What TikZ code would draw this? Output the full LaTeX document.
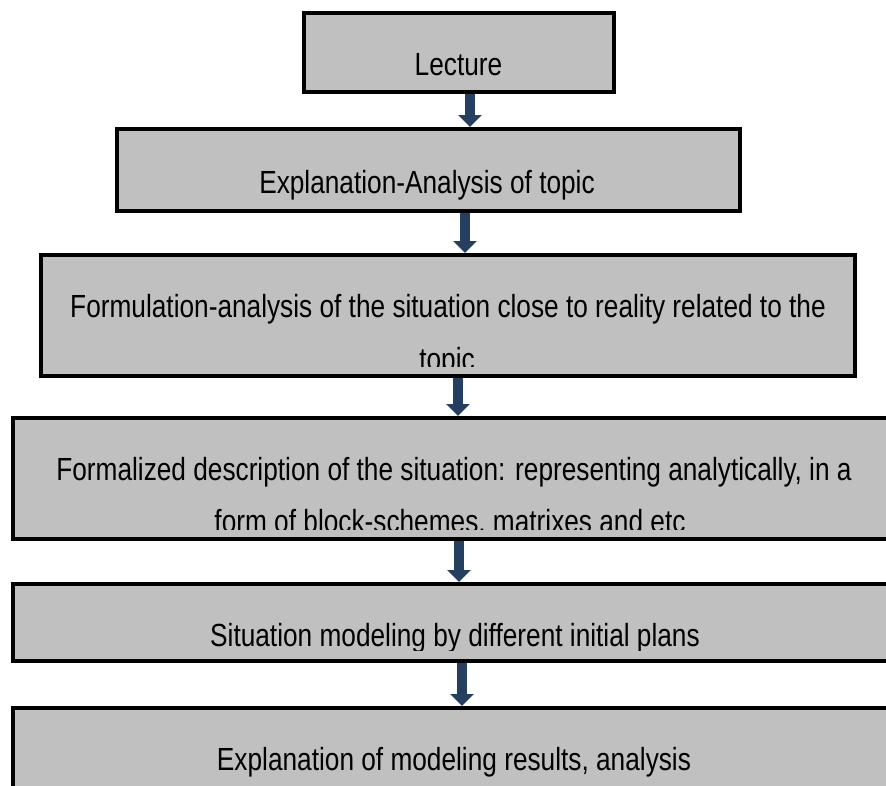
\documentclass[tikz,border=0pt]{standalone}
\usepackage{fontspec}
\setmainfont[FakeStretch=0.82]{Liberation Sans}
\usetikzlibrary{arrows.meta}
\definecolor{boxgray}{RGB}{192,192,192}
\definecolor{arrowblue}{RGB}{36,63,96}
\begin{document}
\begin{tikzpicture}[x=1pt,y=-1pt,
  flowbox/.style={draw=black, fill=boxgray, line width=4pt, rectangle, inner sep=0pt},
  flowtext/.style={anchor=base, inner sep=0pt, font=\fontsize{32}{38}\selectfont},
  flowarrow/.style={draw=arrowblue, line width=10.5pt, -{Triangle[width=23pt,length=12pt]}}]
\useasboundingbox (0,0) rectangle (886,785);
\fill[white] (0,0) rectangle (886,785);
\clip (0,0) rectangle (886,785);
% boxes
\node[flowbox, minimum width=309.5pt, minimum height=79pt] (b1) at (458.75,52.5) {};
\node[flowbox, minimum width=623pt, minimum height=82pt] (b2) at (428.5,170) {};
\node[flowbox, minimum width=814pt, minimum height=121pt] (b3) at (448,315.5) {};
\node[flowbox, minimum width=882pt, minimum height=121pt] (b4) at (454,478.5) {};
\node[flowbox, minimum width=882pt, minimum height=77pt] (b5) at (454,622.5) {};
\node[flowbox, minimum width=882pt, minimum height=112pt] (b6) at (454,764) {};
% texts
\node[flowtext] (t1) at (458.5,75) {Lecture};
\node[flowtext] (t2) at (427,193) {Explanation-Analysis of topic};
\node[flowtext] (t3) at (448,317) {Formulation-analysis of the situation close to reality related to the};
\begin{scope}
\clip (0,0) rectangle (886,366);
\node[flowtext] (t3b) at (447,370) {topic};
\end{scope}
\node[flowtext] (t4) at (454,480) {Formalized description of the situation: representing analytically, in a};
\begin{scope}
\clip (0,0) rectangle (886,529);
\node[flowtext] (t4b) at (450,532) {form of block-schemes, matrixes and etc};
\end{scope}
\begin{scope}
\clip (0,0) rectangle (886,650);
\node[flowtext] (t5) at (455,646) {Situation modeling by different initial plans};
\end{scope}
\node[flowtext] (t6) at (454,770) {Explanation of modeling results, analysis};
% arrows
\coordinate (a1) at (470,0);
\coordinate (a2) at (465,0);
\coordinate (a3) at (458,0);
\coordinate (a4) at (459,0);
\coordinate (a5) at (462,0);
\draw[flowarrow] (b1.south -| a1) -- (b2.north -| a1);
\draw[flowarrow] (b2.south -| a2) -- (b3.north -| a2);
\draw[flowarrow] (b3.south -| a3) -- (b4.north -| a3);
\draw[flowarrow] (b4.south -| a4) -- (b5.north -| a4);
\draw[flowarrow] (b5.south -| a5) -- (b6.north -| a5);
\end{tikzpicture}
\end{document}
